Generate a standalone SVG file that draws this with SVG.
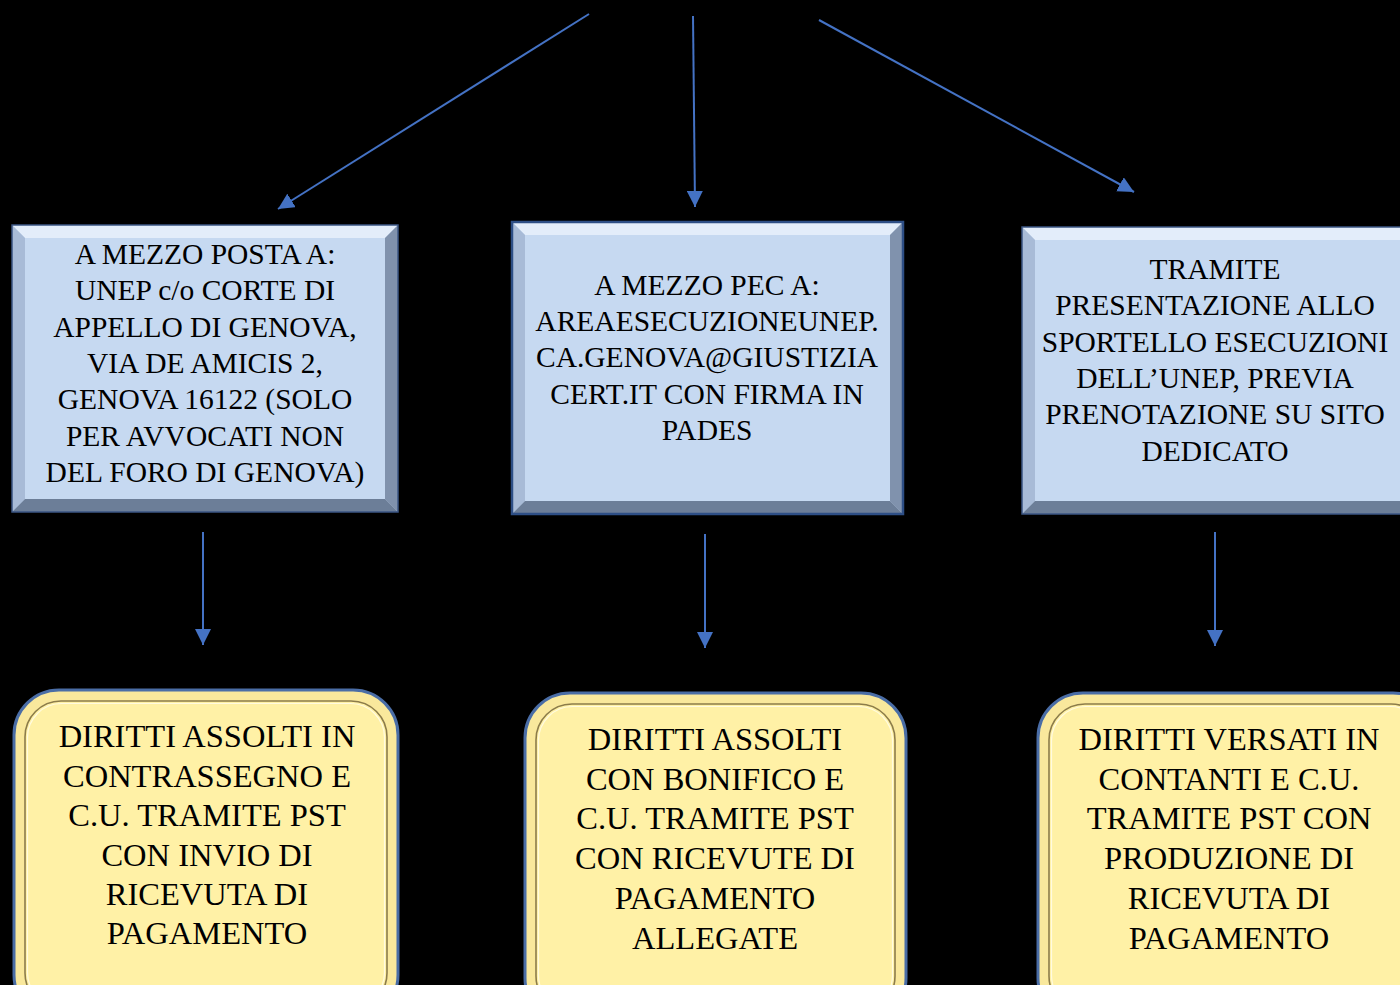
<svg xmlns="http://www.w3.org/2000/svg" width="1400" height="985" viewBox="0 0 1400 985">
<defs>
<style>
.bg{fill:#000}
.face{fill:#c6d9f1}
.bt{fill:#e3edfa}
.bl{fill:#a8bbd7}
.br{fill:#8092ad}
.bb{fill:#6c7e98}
.edge{fill:none;stroke:#3b5684;stroke-width:1.5}
.yo{fill:#f9e89c;stroke:#4a6da6;stroke-width:3}
.yi{fill:#fff1a6;stroke:#8c7c4a;stroke-width:1.6}
.yh{fill:none;stroke:#fffbe0;stroke-width:1.2}
.t1{font-family:"Liberation Serif","Times New Roman",serif;font-size:29.5px;fill:#000;text-anchor:middle}
.t2{font-family:"Liberation Serif","Times New Roman",serif;font-size:32.5px;fill:#000;text-anchor:middle}
.arr{stroke:#4472c4;stroke-width:2;fill:none;marker-end:url(#ah)}
</style>
<marker id="ah" markerUnits="userSpaceOnUse" markerWidth="18" markerHeight="16" refX="16" refY="8" orient="auto">
<path d="M0,0 L16,8 L0,16 z" fill="#4472c4"/>
</marker>
</defs>
<rect class="bg" x="0" y="0" width="1400" height="985"/>

<g id="connectors">
<line class="arr" x1="589" y1="14" x2="278" y2="209"/>
<line class="arr" x1="693" y1="16" x2="695" y2="207"/>
<line class="arr" x1="819" y1="20" x2="1134" y2="192"/>
<line class="arr" x1="203" y1="532" x2="203" y2="645"/>
<line class="arr" x1="705" y1="534" x2="705" y2="648"/>
<line class="arr" x1="1215" y1="532" x2="1215" y2="646"/>
</g>

<g id="node-posta">
<rect class="face" x="12" y="225" width="386" height="287"/>
<polygon class="bt" points="12,225 398,225 385,238 25,238"/>
<polygon class="bl" points="12,225 25,238 25,499 12,512"/>
<polygon class="br" points="398,225 398,512 385,499 385,238"/>
<polygon class="bb" points="12,512 398,512 385,499 25,499"/>
<rect class="edge" x="12" y="225" width="386" height="287"/>
<text class="t1" x="205"><tspan x="205" y="264">A MEZZO POSTA A:</tspan><tspan x="205" y="300">UNEP c/o CORTE DI</tspan><tspan x="205" y="337">APPELLO DI GENOVA,</tspan><tspan x="205" y="373">VIA DE AMICIS 2,</tspan><tspan x="205" y="409">GENOVA 16122 (SOLO</tspan><tspan x="205" y="446">PER AVVOCATI NON</tspan><tspan x="205" y="482">DEL FORO DI GENOVA)</tspan></text>
</g>

<g id="node-pec">
<rect class="face" x="512" y="222" width="391" height="292"/>
<polygon class="bt" points="512,222 903,222 890,235 525,235"/>
<polygon class="bl" points="512,222 525,235 525,501 512,514"/>
<polygon class="br" points="903,222 903,514 890,501 890,235"/>
<polygon class="bb" points="512,514 903,514 890,501 525,501"/>
<rect class="edge" x="512" y="222" width="391" height="292" style="stroke:#2e4f86;stroke-width:2.5"/>
<text class="t1" x="707"><tspan x="707" y="295">A MEZZO PEC A:</tspan><tspan x="707" y="331">AREAESECUZIONEUNEP.</tspan><tspan x="707" y="367">CA.GENOVA@GIUSTIZIA</tspan><tspan x="707" y="404">CERT.IT CON FIRMA IN</tspan><tspan x="707" y="440">PADES</tspan></text>
</g>

<g id="node-sportello">
<rect class="face" x="1022" y="227" width="400" height="287"/>
<polygon class="bt" points="1022,227 1422,227 1409,240 1035,240"/>
<polygon class="bl" points="1022,227 1035,240 1035,501 1022,514"/>
<polygon class="bb" points="1022,514 1422,514 1409,501 1035,501"/>
<rect class="edge" x="1022" y="227" width="400" height="287"/>
<text class="t1" x="1215"><tspan x="1215" y="279">TRAMITE</tspan><tspan x="1215" y="315">PRESENTAZIONE ALLO</tspan><tspan x="1215" y="352">SPORTELLO ESECUZIONI</tspan><tspan x="1215" y="388">DELL’UNEP, PREVIA</tspan><tspan x="1215" y="424">PRENOTAZIONE SU SITO</tspan><tspan x="1215" y="461">DEDICATO</tspan></text>
</g>

<g id="node-contrassegno">
<rect class="yo" x="14" y="690" width="384" height="330" rx="45"/>
<rect class="yi" x="25" y="701" width="362" height="308" rx="36"/>
<rect class="yh" x="27.5" y="703.5" width="357" height="303" rx="34"/>
<text class="t2" x="207"><tspan x="207" y="747">DIRITTI ASSOLTI IN</tspan><tspan x="207" y="787">CONTRASSEGNO E</tspan><tspan x="207" y="826">C.U. TRAMITE PST</tspan><tspan x="207" y="866">CON INVIO DI</tspan><tspan x="207" y="905">RICEVUTA DI</tspan><tspan x="207" y="944">PAGAMENTO</tspan></text>
</g>

<g id="node-bonifico">
<rect class="yo" x="525" y="693" width="381" height="330" rx="45"/>
<rect class="yi" x="536" y="704" width="359" height="308" rx="36"/>
<rect class="yh" x="538.5" y="706.5" width="354" height="303" rx="34"/>
<text class="t2" x="715"><tspan x="715" y="750">DIRITTI ASSOLTI</tspan><tspan x="715" y="790">CON BONIFICO E</tspan><tspan x="715" y="829">C.U. TRAMITE PST</tspan><tspan x="715" y="869">CON RICEVUTE DI</tspan><tspan x="715" y="909">PAGAMENTO</tspan><tspan x="715" y="949">ALLEGATE</tspan></text>
</g>

<g id="node-contanti">
<rect class="yo" x="1038" y="693" width="400" height="330" rx="45"/>
<rect class="yi" x="1049" y="704" width="378" height="308" rx="36"/>
<rect class="yh" x="1051.5" y="706.5" width="373" height="303" rx="34"/>
<text class="t2" x="1229"><tspan x="1229" y="750">DIRITTI VERSATI IN</tspan><tspan x="1229" y="790">CONTANTI E C.U.</tspan><tspan x="1229" y="829">TRAMITE PST CON</tspan><tspan x="1229" y="869">PRODUZIONE DI</tspan><tspan x="1229" y="909">RICEVUTA DI</tspan><tspan x="1229" y="949">PAGAMENTO</tspan></text>
</g>
</svg>
